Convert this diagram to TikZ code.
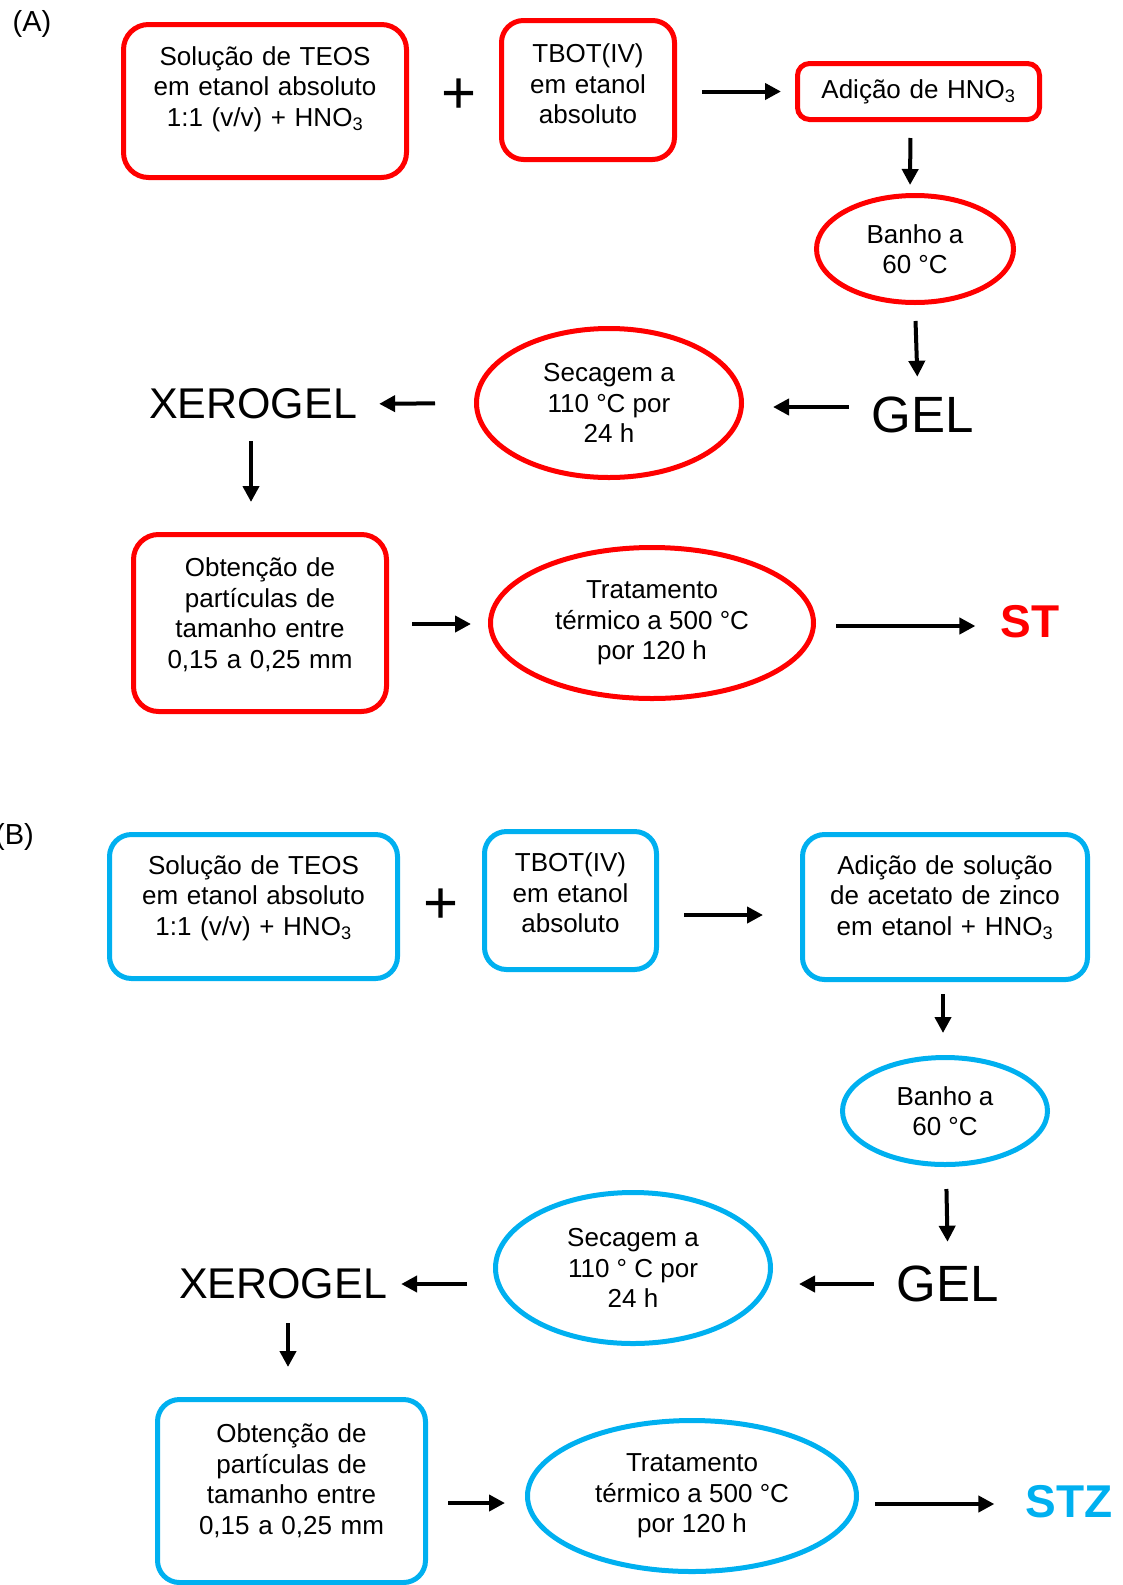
\documentclass[tikz,border=0pt]{standalone}
\usepackage{fontspec}
\setmainfont{Liberation Sans}
\usetikzlibrary{shapes.geometric,arrows.meta}
\definecolor{vermelho}{RGB}{255,0,0}
\definecolor{azul}{RGB}{0,176,240}
\newcommand{\fundo}[1]{\rule[-#1]{0pt}{0pt}}

\begin{document}
\begin{tikzpicture}[x=1pt, y=-1pt,
    txt/.style={font=\fontsize{26}{30.5}\selectfont, align=center},
    caixa/.style={txt, draw=#1, line width=5pt, rounded corners=22pt, inner sep=0pt},
    oval/.style={txt, ellipse, draw=#1, line width=5pt, inner sep=0pt},
    grande/.style={font=\fontsize{#1}{#1}\selectfont, inner sep=0pt},
    produto/.style={font=\fontsize{46}{46}\selectfont\bfseries, text=#1, inner sep=0pt},
    seta/.style={line width=4pt, -{Triangle[length=16pt, width=16pt]}}]
    \useasboundingbox (0,0) rectangle (1123,1585);

    \node[grande=29] (labA) at (32,24) {(A)};
    \node[caixa=vermelho, rounded corners=25pt, minimum width=283pt, minimum height=153pt, text width=270pt] (teosA) at (265,101) {Solução de TEOS\\ em etanol absoluto\\ 1:1 (v/v) + HNO\textsubscript{3}\fundo{29pt}};
    \node[grande=60] (plusA) at (459,96) {+};
    \node[caixa=vermelho, minimum width=173pt, minimum height=139pt, text width=165pt] (tbotA) at (588,90) {TBOT(IV)\\ em etanol\\ absoluto\fundo{12pt}};
    \node[caixa=vermelho, rounded corners=12pt, minimum width=242pt, minimum height=56pt, text width=230pt] (addA) at (918.5,91.5) {Adição de HNO\textsubscript{3}};
    \node[oval=vermelho, minimum width=197pt, minimum height=107pt] (banhoA) at (915,249) {Banho a\\ 60 °C};
    \node[grande=51] (gelA) at (923,415) {GEL};
    \node[oval=vermelho, minimum width=265pt, minimum height=149pt] (secA) at (609,403) {Secagem a\\ 110 °C por\\ 24 h};
    \node[grande=43] (xeroA) at (253,404) {XEROGEL};
    \node[caixa=vermelho, rounded corners=25pt, minimum width=253pt, minimum height=177pt, text width=240pt] (obtA) at (260,623) {Obtenção de\\ partículas de\\ tamanho entre\\ 0,15 a 0,25 mm\fundo{20pt}};
    \node[oval=vermelho, minimum width=323pt, minimum height=151pt] (tratA) at (652,623) {Tratamento\\ térmico a 500 °C\\ por 120 h};
    \node[produto=vermelho] (stA) at (1030,622) {ST};

    \draw[seta, shorten <=25pt, shorten >=14pt] ([yshift=-1.5pt]tbotA.east) -- (addA.west);
    \draw[seta, shorten <=16pt, shorten >=8pt] ([xshift=-8pt]addA.south) -- ([xshift=-5pt]banhoA.north);
    \draw[seta, shorten <=16pt, shorten >=20pt] (banhoA.south) -- ([xshift=-5pt]gelA.north);
    \draw[seta, shorten <=23pt, shorten >=29pt] ([yshift=8pt]gelA.west) -- ([yshift=-4pt]secA.east);
    \draw[seta, shorten <=39pt, shorten >=22pt] (secA.west) -- (xeroA.east);
    \draw[seta, shorten <=22pt, shorten >=30pt] ([xshift=-2pt]xeroA.south) -- ([xshift=-9pt]obtA.north);
    \draw[seta, shorten <=23pt, shorten >=17pt] ([yshift=-1pt]obtA.east) -- ([yshift=-1pt]tratA.west);
    \draw[seta, shorten <=20pt, shorten >=25pt] ([yshift=-3pt]tratA.east) -- ([yshift=-4pt]stA.west);

    \node[grande=29] (labB) at (14.5,837) {(B)};
    \node[caixa=azul, minimum width=288pt, minimum height=144pt, text width=275pt] (teosB) at (253.5,906.5) {Solução de TEOS\\ em etanol absoluto\\ 1:1 (v/v) + HNO\textsubscript{3}\fundo{22pt}};
    \node[grande=60] (plusB) at (441,906) {+};
    \node[caixa=azul, minimum width=172pt, minimum height=138pt, text width=165pt] (tbotB) at (570.5,900.5) {TBOT(IV)\\ em etanol\\ absoluto\fundo{15pt}};
    \node[caixa=azul, minimum width=285pt, minimum height=145pt, text width=275pt] (addB) at (945,907) {Adição de solução\\ de acetato de zinco\\ em etanol + HNO\textsubscript{3}\fundo{23pt}};
    \node[oval=azul, minimum width=205pt, minimum height=107pt] (banhoB) at (945,1111) {Banho a\\ 60 °C};
    \node[grande=51] (gelB) at (948,1284) {GEL};
    \node[oval=azul, minimum width=275pt, minimum height=151pt] (secB) at (633,1268) {Secagem a\\ 110 ° C por\\ 24 h};
    \node[grande=43] (xeroB) at (283,1284) {XEROGEL};
    \node[caixa=azul, minimum width=268pt, minimum height=183pt, text width=255pt] (obtB) at (291.5,1491) {Obtenção de\\ partículas de\\ tamanho entre\\ 0,15 a 0,25 mm\fundo{24pt}};
    \node[oval=azul, minimum width=329pt, minimum height=151pt] (tratB) at (692,1496) {Tratamento\\ térmico a 500 °C\\ por 120 h};
    \node[produto=azul] (stzB) at (1069,1502) {STZ};

    \draw[seta, shorten <=25pt, shorten >=37pt] ([yshift=-14.5pt]tbotB.east) -- ([yshift=-8pt]addB.west);
    \draw[seta, shorten <=12pt, shorten >=22pt] ([xshift=-2pt]addB.south) -- ([xshift=-2pt]banhoB.north);
    \draw[seta, shorten <=22pt, shorten >=24pt] ([xshift=1pt]banhoB.south) -- (gelB.north);
    \draw[seta, shorten <=23pt, shorten >=26pt] (gelB.west) -- ([yshift=-16pt]secB.east);
    \draw[seta, shorten <=26pt, shorten >=14pt] ([yshift=-16pt]secB.west) -- (xeroB.east);
    \draw[seta, shorten <=24pt, shorten >=30pt] ([xshift=5pt]xeroB.south) -- ([xshift=-3.5pt]obtB.north);
    \draw[seta, shorten <=20pt, shorten >=20pt] ([yshift=-12pt]obtB.east) -- ([yshift=-7pt]tratB.west);
    \draw[seta, shorten <=16pt, shorten >=31pt] ([yshift=-8pt]tratB.east) -- ([yshift=-2pt]stzB.west);
\end{tikzpicture}
\end{document}
